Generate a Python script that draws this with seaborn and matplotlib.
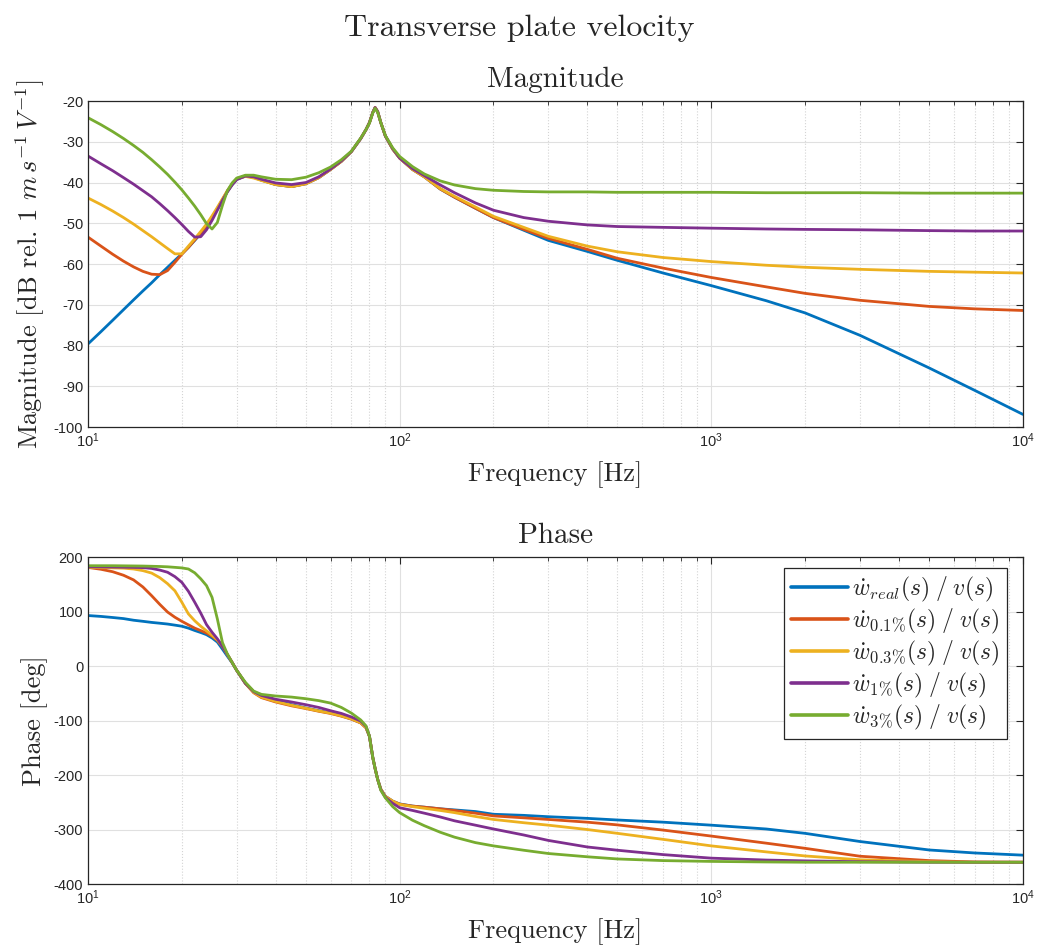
import numpy as np
import pandas as pd
import matplotlib
matplotlib.use("Agg")
import matplotlib.pyplot as plt
import seaborn as sns
from matplotlib.ticker import LogLocator, FixedLocator, NullFormatter

# ---------------- data ----------------
freq = [10, 11, 12, 13, 14, 15, 16, 17, 18, 19, 20, 21, 22, 23, 24, 25, 26, 27, 28, 29,
        30, 32, 34, 36, 40, 45, 50, 55, 60, 65, 70, 75, 78, 80, 82, 83.4, 85, 87, 90, 95,
        100, 110, 120, 135, 150, 175, 200, 250, 300, 400, 500, 700, 1000, 1500, 2000,
        3000, 5000, 7000, 10000]

series = [r"$\dot{w}_{real}(s)\;/\;v(s)$",
          r"$\dot{w}_{0.1\%}(s)\;/\;v(s)$",
          r"$\dot{w}_{0.3\%}(s)\;/\;v(s)$",
          r"$\dot{w}_{1\%}(s)\;/\;v(s)$",
          r"$\dot{w}_{3\%}(s)\;/\;v(s)$"]

mag_real = [-79.6, -76.6, -73.8, -71.2, -68.8, -66.6, -64.6, -62.6, -60.8, -59.1, -57.5, -55.9,
            -54.2, -52.5, -50.6, -48.6, -46.5, -44.3, -42.2, -40.5, -39.2, -38.4, -38.7, -39.4,
            -40.5, -41.0, -40.3, -38.8, -36.8, -34.8, -32.4, -29.2, -27.0, -25.3, -22.8, -21.6,
            -22.6, -25.3, -28.6, -31.8, -34.0, -36.8, -38.6, -41.6, -43.6, -46.3, -48.6, -51.7,
            -54.2, -56.9, -59.1, -62.2, -65.3, -69.0, -72.0, -77.5, -85.5, -91.0, -96.9]
mag_01 = [-53.4, -55.6, -57.6, -59.3, -60.7, -61.8, -62.5, -62.6, -61.6, -59.6, -57.6, -55.9,
          -54.1, -52.4, -50.5, -48.5, -46.4, -44.2, -42.1, -40.4, -39.1, -38.4, -38.7, -39.4,
          -40.5, -41.0, -40.3, -38.8, -36.8, -34.8, -32.4, -29.2, -27.0, -25.3, -22.8, -21.6,
          -22.6, -25.3, -28.6, -31.8, -34.0, -36.8, -38.6, -41.6, -43.6, -46.3, -48.6, -51.5,
          -53.7, -56.4, -58.6, -61.0, -63.3, -65.6, -67.2, -68.9, -70.4, -71.0, -71.4]
mag_03 = [-43.8, -45.4, -47.0, -48.6, -50.2, -51.8, -53.3, -54.8, -56.2, -57.5, -57.5, -55.6,
          -53.8, -52.0, -50.2, -48.2, -46.1, -44.0, -42.0, -40.4, -39.1, -38.5, -38.9, -39.5,
          -40.5, -41.0, -40.3, -38.8, -36.8, -34.8, -32.4, -29.2, -27.0, -25.3, -22.8, -21.6,
          -22.6, -25.3, -28.6, -31.8, -34.0, -36.8, -38.6, -41.5, -43.4, -46.0, -48.3, -51.0,
          -53.2, -55.6, -57.0, -58.4, -59.4, -60.3, -60.8, -61.3, -61.8, -62.0, -62.2]
mag_1 = [-33.5, -35.4, -37.1, -38.8, -40.4, -42.0, -43.5, -45.2, -46.9, -48.6, -50.3, -52.0,
         -53.4, -53.3, -51.6, -49.3, -46.8, -44.4, -42.3, -40.6, -39.3, -38.4, -38.6, -39.2,
         -40.1, -40.5, -40.0, -38.6, -36.7, -34.7, -32.4, -29.2, -27.0, -25.3, -22.8, -21.6,
         -22.6, -25.3, -28.6, -31.7, -34.0, -36.6, -38.3, -40.6, -42.5, -45.0, -46.8, -48.6,
         -49.5, -50.4, -50.8, -51.0, -51.2, -51.4, -51.5, -51.6, -51.8, -51.9, -51.9]
mag_3 = [-24.1, -25.8, -27.5, -29.2, -30.9, -32.6, -34.4, -36.2, -38.0, -39.9, -41.8, -43.8,
         -45.8, -47.9, -50.1, -51.4, -49.8, -45.6, -42.0, -40.1, -38.9, -38.2, -38.2, -38.6,
         -39.2, -39.3, -38.7, -37.6, -36.2, -34.4, -32.3, -29.1, -27.0, -25.4, -22.9, -21.8,
         -22.8, -25.3, -28.5, -31.5, -33.6, -36.1, -37.9, -39.6, -40.6, -41.5, -41.9, -42.2,
         -42.3, -42.3, -42.4, -42.4, -42.4, -42.5, -42.5, -42.5, -42.6, -42.6, -42.6]

ph_real = [92.6, 91, 89, 87, 84, 82, 80, 78.5, 77, 75, 73, 69.5, 65.2, 61.5, 57.5, 51.5, 44, 31,
           18, 6, -8, -32, -47, -55, -63, -71, -77, -82, -86, -91, -97, -104, -113, -129, -168,
           -188, -208, -226, -239, -248, -253, -257, -259, -262, -264, -267, -272, -274, -276.5,
           -279.5, -282.5, -286.5, -292, -299, -307, -322, -337.5, -343, -347]
ph_01 = [180.9, 177.5, 173, 166.5, 158, 145, 129, 113, 99, 89.5, 82, 75.5, 69.5, 65, 60.5, 54.5,
         47, 35.5, 21, 6.5, -8, -32, -49, -58, -66, -73, -78, -83, -87, -92, -97.5, -104.5,
         -113.5, -129, -168, -188, -208, -226, -239.5, -248, -253.5, -257, -259, -262, -265, -270,
         -275, -278.5, -281.5, -286.5, -291.5, -301, -312, -325, -334.5, -349, -357, -359.5, -360]
ph_03 = [180.9, 180.5, 180, 179.5, 178, 175, 170.5, 162, 151, 138, 117, 95.6, 83, 73, 64.5, 56.5,
         48, 37, 21, 6.5, -8, -32, -48.5, -57, -65, -72, -77.5, -82.5, -86.5, -91.5, -97, -104,
         -113, -129, -168, -188, -208, -226, -239.5, -248, -254, -258, -261, -265, -269, -276,
         -281.5, -287.5, -292, -300, -307, -318, -330, -341, -348.5, -355.5, -359, -360, -360]
ph_1 = [182, 181.8, 181.6, 181.3, 181, 180.5, 179, 176, 172, 164, 153.5, 137, 117, 97, 76, 62,
        50, 36.5, 21, 6.5, -8, -32, -47, -54, -61, -66, -71, -76, -82, -87, -93.5, -101, -111,
        -129, -168, -188, -208, -227, -241, -252, -260, -265, -270, -277, -284, -292, -299, -310,
        -320, -332, -338, -346, -352.5, -356, -357.5, -359, -360, -360, -360]
ph_3 = [184, 184, 184, 183.8, 183.6, 183.4, 183, 182.6, 182, 181, 180, 178, 171, 160, 147.5, 126,
        86.5, 43, 22, 6.5, -8, -30, -46, -52, -55, -57, -60, -63.5, -68, -76, -86.4, -99, -110,
        -129, -168, -188, -208, -228, -242, -258, -269, -283, -293, -305, -314, -324, -330, -338,
        -344, -350, -354, -357, -358.5, -359.5, -360, -360, -360, -360, -360]

mag_all = [mag_real, mag_01, mag_03, mag_1, mag_3]
ph_all = [ph_real, ph_01, ph_03, ph_1, ph_3]

colors = ["#0072BD", "#D95319", "#EDB120", "#7E2F8E", "#77AC30"]

rows = []
for name, m, p in zip(series, mag_all, ph_all):
    for f, mv, pv in zip(freq, m, p):
        rows.append({"Frequency": f, "Magnitude": mv, "Phase": pv, "series": name})
df = pd.DataFrame(rows)

# ---------------- style ----------------
sns.set_style("white")
plt.rcParams["font.family"] = ["Liberation Sans", "DejaVu Sans"]
plt.rcParams["mathtext.fontset"] = "cm"
plt.rcParams["axes.unicode_minus"] = False
plt.rcParams["axes.formatter.use_mathtext"] = True

serif = "cmr10"
tick_col = "#262626"

fig = plt.figure(figsize=(10.38, 9.46), dpi=100)
ax1 = fig.add_axes([0.0848, 0.5486, 0.9007, 0.3446])
ax2 = fig.add_axes([0.0848, 0.0655, 0.9007, 0.3457])

for ax, col in ((ax1, "Magnitude"), (ax2, "Phase")):
    sns.lineplot(data=df, x="Frequency", y=col, hue="series", hue_order=series,
                 palette=colors, linewidth=2.0, ax=ax, legend=False, estimator=None,
                 errorbar=None)
    ax.set_xscale("log")
    ax.set_xlim(10, 10000)
    ax.xaxis.set_major_locator(LogLocator(base=10, numticks=10))
    ax.xaxis.set_minor_locator(LogLocator(base=10, subs=np.arange(2, 10), numticks=20))
    ax.xaxis.set_minor_formatter(NullFormatter())
    ax.grid(True, which="major", color="#e0e0e0", linewidth=0.8, linestyle="-")
    ax.grid(True, which="minor", axis="x", color="#d4d4d4", linewidth=0.8, linestyle=":")
    ax.set_axisbelow(True)
    ax.tick_params(which="both", direction="in", top=True, right=True,
                   colors=tick_col, labelcolor=tick_col, labelsize=10.5)
    ax.tick_params(which="major", length=5, width=0.8)
    ax.tick_params(which="minor", length=3, width=0.6)
    for s in ax.spines.values():
        s.set_color(tick_col)
        s.set_linewidth(0.9)
    ax.set_xlabel("Frequency [Hz]", fontfamily=serif, fontsize=19, color="#262626", labelpad=8)

ax1.set_ylim(-100, -20)
ax1.yaxis.set_major_locator(FixedLocator(np.arange(-100, -19, 10)))
ax1.set_yticklabels([str(v) for v in range(-100, -19, 10)])
ax1.set_ylabel(r"Magnitude [dB rel. 1 $m\,s^{-1}\,V^{-1}$]", fontfamily=serif, fontsize=19,
               color="#262626", labelpad=5)
ax1.set_title("Magnitude", fontfamily=serif, fontsize=21, pad=10)

ax2.set_ylim(-400, 200)
ax2.yaxis.set_major_locator(FixedLocator(np.arange(-400, 201, 100)))
ax2.set_yticklabels([str(v) for v in range(-400, 201, 100)])
ax2.set_ylabel("Phase [deg]", fontfamily=serif, fontsize=19, color="#262626", labelpad=4)
ax2.set_title("Phase", fontfamily=serif, fontsize=21, pad=10)

handles = ax2.get_lines()[:len(series)]
leg = ax2.legend(handles, series, loc="upper right", bbox_to_anchor=(0.983, 0.967),
                 fontsize=17, frameon=True, fancybox=False, framealpha=1,
                 edgecolor="#262626", handlelength=2.4, handletextpad=0.2,
                 labelspacing=0.12, borderpad=0.3, borderaxespad=0.0)
leg.get_frame().set_linewidth(0.9)
for lh in leg.get_lines():
    lh.set_linewidth(2.6)

fig.suptitle("Transverse plate velocity", fontfamily=serif, fontsize=23, y=0.985)

fig.savefig("out.png", dpi=100)
